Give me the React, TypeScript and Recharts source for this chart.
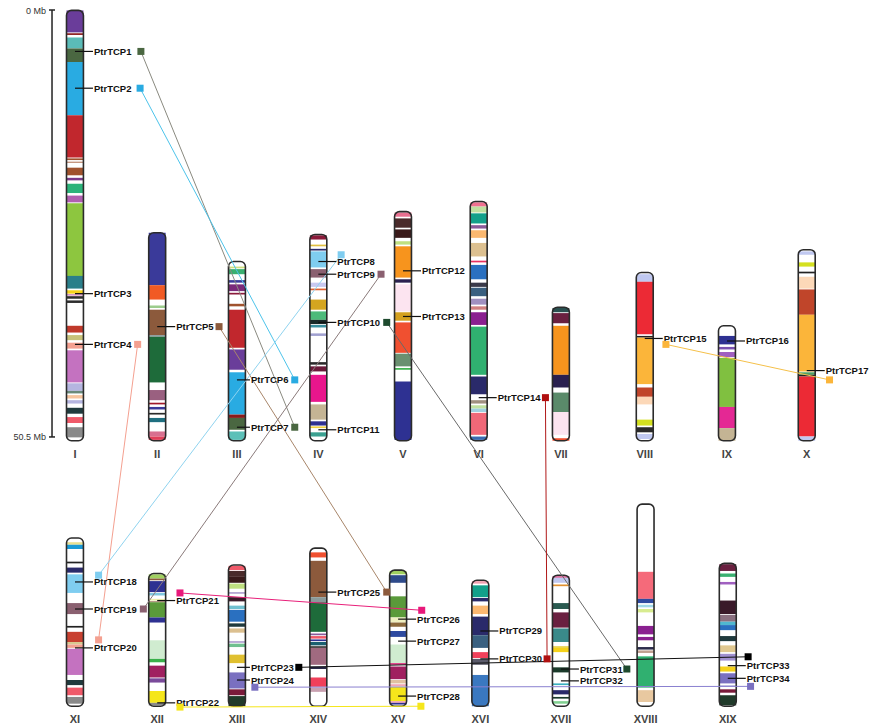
import React from "react"
import { ScatterChart, Scatter, XAxis, YAxis, ReferenceArea, ReferenceLine } from "recharts"

// chromosome layout (x = column on the page, length in Mb)
const chromNames = ["I", "II", "III", "IV", "V", "VI", "VII", "VIII", "IX", "X", "XI", "XII", "XIII", "XIV", "XV", "XVI", "XVII", "XVIII", "XIX"]
const chromX = [1, 2.01, 2.99, 3.99, 5.03, 5.96, 6.97, 8.0, 9.01, 9.99, 1, 2.01, 2.99, 3.99, 4.97, 5.98, 6.97, 8.01, 9.02]
const chromRow = [0, 0, 0, 0, 0, 0, 0, 0, 0, 0, 1, 1, 1, 1, 1, 1, 1, 1, 1]
const chromLength = [50.9, 24.6, 21.2, 24.4, 27.1, 28.3, 15.8, 19.9, 13.6, 22.6, 19.9, 15.7, 16.7, 18.7, 16.1, 14.9, 15.5, 23.9, 16.9]
const rowBase = [50.95, 82.35]

// coloured blocks on each chromosome: [start Mb, end Mb, colour]
type Band = [number, number, string]
const bandsI: Band[] = [
  [0, 2.6, "#6a3d9a"], [2.7, 2.9, "#8b1a1a"], [3.2, 4.5, "#5bbcb8"], [4.5, 6.1, "#4a6741"], [6.1, 12.4, "#29abe2"],
  [12.4, 17.4, "#c1272d"], [17.5, 17.7, "#a0522d"], [17.9, 18.0, "#a0522d"], [18.6, 19.5, "#a0522d"], [19.8, 20.1, "#7a3a8a"],
  [20.5, 21.6, "#2bb37a"], [21.9, 22.7, "#b05fb0"], [22.8, 31.4, "#8dc63f"], [31.4, 32.9, "#2a7f8a"], [33.1, 33.5, "#f5d21b"],
  [33.6, 33.7, "#b0308a"], [33.8, 34.1, "#2d2d2d"], [34.3, 34.6, "#2d2d2d"], [37.3, 38.1, "#c0392b"], [38.4, 39.0, "#c8c27a"],
  [39.3, 40.0, "#f4a090"], [40.2, 44.0, "#c472c0"], [44.1, 45.0, "#b5b5e0"], [45.0, 45.3, "#6a8a7a"], [45.5, 45.9, "#f7c59f"],
  [46.1, 46.5, "#b5b5e0"], [47.0, 47.7, "#1f3a3d"], [48.1, 48.8, "#f05a6a"], [49.3, 50.5, "#8a8a8a"],
]
const bandsII: Band[] = [
  [0, 6.2, "#3a3a9a"], [6.2, 7.9, "#f15a24"], [8.6, 8.9, "#9ccc8c"], [9.1, 12.1, "#8c5a3c"], [12.1, 12.3, "#8a9a9a"],
  [12.3, 17.7, "#1e6b3a"], [18.6, 19.8, "#9a6080"], [20.1, 20.3, "#a01a2a"], [20.6, 20.9, "#3a3a9a"], [21.3, 21.5, "#2a2a2a"],
  [21.9, 22.4, "#1f6f80"], [23.5, 24.1, "#d87090"], [24.1, 24.5, "#e0405a"],
]
const bandsIII: Band[] = [
  [0.6, 0.8, "#d0e080"], [0.9, 1.5, "#3ab070"], [2.2, 2.5, "#3a3a9a"], [2.7, 3.5, "#7a2a7a"], [3.7, 3.9, "#8b1a3a"],
  [5.0, 5.3, "#a0522d"], [5.7, 10.2, "#c1272d"], [10.4, 12.8, "#6a3d9a"], [13.1, 18.1, "#29abe2"], [18.1, 18.5, "#8b1a1a"],
  [18.5, 19.9, "#4a6741"], [20.1, 21.1, "#5bc0b8"],
]
const bandsIV: Band[] = [
  [0.1, 0.6, "#8b1a3a"], [1.2, 1.4, "#e0c040"], [1.7, 1.9, "#2a2a6a"], [2.0, 3.9, "#7fcdf0"], [4.1, 5.1, "#8a6070"],
  [5.7, 6.2, "#c8c8f0"], [6.4, 6.6, "#e06030"], [7.7, 8.9, "#d4a520"], [9.1, 10.1, "#4cba7a"], [10.1, 10.6, "#1a2a2a"],
  [10.7, 11.0, "#3a90a0"], [11.7, 12.0, "#a0a0d0"], [15.1, 15.4, "#2a2a2a"], [15.6, 16.2, "#6b1a3a"], [16.6, 19.8, "#e9168c"],
  [20.1, 21.9, "#c4b494"], [22.1, 22.6, "#2e3192"], [22.7, 22.9, "#f0d040"], [23.4, 23.9, "#3aa090"],
]
const bandsV: Band[] = [
  [0.1, 0.6, "#e87090"], [0.8, 1.9, "#4a2a2a"], [2.1, 3.1, "#3a1a1a"], [3.5, 3.9, "#c0e080"], [4.1, 7.8, "#f7941d"],
  [8.0, 8.4, "#2a2050"], [8.6, 11.8, "#fce4f0"], [11.9, 12.9, "#d4a020"], [13.1, 16.7, "#f05030"], [16.8, 18.3, "#6a9070"],
  [18.5, 18.7, "#3ab04a"], [20.1, 27.0, "#2e3192"],
]
const bandsVI: Band[] = [
  [0.1, 0.6, "#f07090"], [0.6, 1.3, "#c0e0a0"], [1.4, 2.6, "#12a08a"], [2.8, 3.2, "#8a5a9a"], [3.4, 4.3, "#fbb870"],
  [4.9, 6.5, "#dcc090"], [7.0, 7.2, "#e83060"], [7.5, 9.2, "#2a70c0"], [9.6, 10.1, "#3a3a4a"], [10.2, 11.2, "#3a6080"],
  [11.5, 12.2, "#a090c0"], [12.4, 12.8, "#d08080"], [13.1, 14.6, "#8a2090"], [14.8, 20.5, "#30b070"], [20.7, 22.8, "#2a2a6a"],
  [23.5, 23.9, "#a09080"], [24.1, 24.5, "#c0e0a0"], [24.5, 24.9, "#a0d0e0"], [25.0, 27.6, "#f06878"], [27.8, 28.2, "#3a6ab0"],
]
const bandsVII: Band[] = [
  [0.1, 0.6, "#2a5050"], [0.7, 1.9, "#6a2040"], [2.2, 8.0, "#f7941d"], [8.0, 9.5, "#2a2050"], [10.1, 12.4, "#5a8a6a"],
  [12.4, 15.1, "#fce4f0"], [15.5, 15.8, "#f05030"],
]
const bandsVIII: Band[] = [
  [0.2, 1.1, "#c0c8f0"], [1.1, 7.3, "#ec2a35"], [7.5, 7.7, "#222222"], [7.7, 13.2, "#fbb53a"], [13.6, 14.7, "#c0452a"],
  [14.7, 15.6, "#fcd8b8"], [17.4, 18.1, "#d4e020"], [18.3, 18.9, "#2a2a2a"], [19.1, 19.7, "#c0c8f0"],
]
const bandsIX: Band[] = [
  [1.2, 2.2, "#2e3192"], [2.5, 2.8, "#7a50b0"], [3.1, 3.7, "#a060c0"], [3.8, 9.6, "#80c040"], [9.6, 12.1, "#e42894"],
  [12.1, 13.6, "#c4b494"],
]
const bandsX: Band[] = [
  [0.2, 0.6, "#c0c8f0"], [1.5, 2.0, "#d4e020"], [2.6, 2.8, "#222222"], [3.2, 4.6, "#fcd8b8"], [4.7, 7.7, "#c0452a"],
  [7.7, 14.4, "#fbb53a"], [14.5, 14.8, "#50a060"], [14.8, 15.0, "#222222"], [15.0, 22.1, "#ec2a35"], [22.1, 22.6, "#c0c8f0"],
]
const bandsXI: Band[] = [
  [0.5, 0.8, "#e8e090"], [0.8, 1.3, "#1a9ad6"], [2.8, 3.0, "#222222"], [3.5, 4.1, "#2a2a6a"], [4.3, 6.5, "#7fcdf0"],
  [7.7, 9.0, "#8a6070"], [10.4, 10.6, "#222222"], [11.1, 12.3, "#c84030"], [12.3, 12.6, "#d8c890"], [12.6, 13.0, "#f4a090"],
  [13.1, 16.2, "#c472c0"], [16.8, 17.4, "#1f3a3d"], [17.7, 18.6, "#f05a6a"], [18.8, 19.6, "#8a8a8a"],
]
const bandsXII: Band[] = [
  [0.1, 0.6, "#a0d060"], [0.6, 0.8, "#8c5a3c"], [0.9, 2.2, "#2e3192"], [2.3, 2.6, "#80c8e0"], [3.0, 3.2, "#f0f0b0"],
  [3.3, 3.4, "#8c5a3c"], [3.4, 5.2, "#5a9a3a"], [5.2, 5.8, "#2e3192"], [7.9, 10.1, "#d0ecd0"], [10.1, 10.5, "#3ab04a"],
  [10.9, 12.3, "#a02060"], [12.4, 12.9, "#7a4a9a"], [13.9, 15.3, "#f5e61b"], [15.3, 15.6, "#8a8a8a"],
]
const bandsXIII: Band[] = [
  [0.1, 0.6, "#f05a6a"], [0.7, 1.4, "#4a2a2a"], [1.4, 2.1, "#3a1a1a"], [2.2, 2.8, "#c0e080"], [3.2, 3.4, "#b0a0d0"],
  [3.8, 4.3, "#3a1a2a"], [4.8, 5.2, "#70c0d0"], [5.3, 6.7, "#2a70c0"], [6.9, 7.3, "#1f3a3d"], [7.5, 8.0, "#dcc090"],
  [9.0, 9.2, "#b0a0d0"], [9.3, 9.7, "#70c090"], [10.6, 11.6, "#e0c030"], [12.7, 14.6, "#7a70c0"], [14.7, 15.4, "#7a1a3a"],
  [15.5, 16.7, "#203a2a"],
]
const bandsXIV: Band[] = [
  [0.5, 1.1, "#f05030"], [1.5, 5.8, "#8c5a3c"], [5.8, 6.4, "#8a9a9a"], [6.4, 9.9, "#1e6b3a"], [10.1, 10.3, "#8a5a9a"],
  [10.4, 10.7, "#f05a6a"], [10.8, 11.0, "#2e3192"], [11.1, 11.5, "#1a6070"], [11.6, 11.8, "#333333"], [11.8, 13.8, "#a06a80"],
  [14.0, 14.3, "#2a2a4a"], [15.3, 16.4, "#f0405a"], [16.5, 17.0, "#c8a0b0"],
]
const bandsXV: Band[] = [
  [0.1, 0.5, "#a0d060"], [0.6, 1.5, "#2e4a8a"], [3.1, 5.6, "#5a9a3a"], [5.6, 6.2, "#f0f0c0"], [6.2, 6.7, "#8c6a3c"],
  [7.2, 7.9, "#2e4aa0"], [8.8, 11.0, "#d0ecd0"], [11.0, 11.2, "#e03080"], [11.4, 12.9, "#a02060"], [13.0, 13.4, "#e0c0a0"],
  [13.5, 13.7, "#f0a0b0"], [13.8, 15.5, "#f5e61b"], [15.5, 15.7, "#f0a0b0"], [15.7, 15.9, "#2e3192"],
]
const bandsXVI: Band[] = [
  [0.1, 0.4, "#f0a0b0"], [0.6, 2.0, "#12a08a"], [2.1, 2.5, "#2a2a6a"], [3.0, 4.0, "#fbb870"], [4.3, 6.5, "#2a2a6a"],
  [6.5, 8.0, "#3a6080"], [8.5, 9.2, "#f0405a"], [9.3, 10.0, "#5a5a6a"], [11.2, 14.9, "#3a78c0"],
]
const bandsXVII: Band[] = [
  [0.1, 0.9, "#c0c8f0"], [0.1, 0.3, "#e070a0"], [1.1, 1.3, "#e09030"], [3.3, 4.0, "#2a5a50"], [4.4, 6.2, "#6a2040"],
  [6.3, 7.9, "#3a8a8a"], [8.4, 8.6, "#e8d040"], [8.6, 9.1, "#f5d21b"], [10.9, 11.5, "#1a3a2a"], [12.8, 13.0, "#3ab0c0"],
  [13.6, 14.1, "#2a2a6a"], [14.4, 14.6, "#1a3a2a"], [14.9, 15.2, "#80d090"],
]
const bandsXVIII: Band[] = [
  [8.0, 11.2, "#f56a7a"], [11.2, 11.7, "#2e4aa0"], [11.9, 12.2, "#a0d8e8"], [12.4, 12.8, "#d8ec90"], [14.4, 15.4, "#8a2090"],
  [15.7, 16.1, "#8a2090"], [16.9, 17.2, "#2a2a4a"], [17.3, 17.6, "#c0a090"], [18.0, 21.7, "#30b070"], [22.0, 23.4, "#e8c8a0"],
]
const bandsXIX: Band[] = [
  [0.1, 0.9, "#6a2040"], [1.2, 1.6, "#3ab070"], [2.2, 2.5, "#a060c0"], [4.4, 6.0, "#3a1a2a"], [6.1, 6.9, "#8a7080"],
  [6.9, 7.3, "#50b8d0"], [7.3, 7.9, "#2a70c0"], [8.6, 9.2, "#1f3a3d"], [9.7, 10.5, "#e0c890"], [10.7, 11.5, "#a090d0"],
  [12.2, 12.8, "#f5d21b"], [13.0, 14.2, "#7a70c0"], [14.4, 14.6, "#c0c0e0"], [14.9, 15.3, "#7a1a3a"], [15.6, 16.8, "#203a2a"],
]
const chromBands = [bandsI, bandsII, bandsIII, bandsIV, bandsV, bandsVI, bandsVII, bandsVIII, bandsIX, bandsX,
  bandsXI, bandsXII, bandsXIII, bandsXIV, bandsXV, bandsXVI, bandsXVII, bandsXVIII, bandsXIX]

// TCP genes: chromosome index and position (Mb from chromosome top)
const geneNames = Array.from({ length: 34 }, (_, i) => `PtrTCP${i + 1}`)
const geneChrom = [0, 0, 0, 0, 1, 2, 2, 3, 3, 3, 3, 4, 4, 5, 7, 8, 9, 10, 10, 10, 11, 11, 12, 12, 13, 14, 14, 14, 15, 15, 16, 16, 18, 18]
const genePos = [4.85, 9.2, 33.5, 39.5, 11.1, 14.0, 19.6, 3.2, 4.7, 10.4, 23.1, 7.0, 12.4, 23.2, 7.8, 1.8, 14.3, 5.2, 8.4, 13.0,
  3.2, 15.3, 12.1, 13.6, 5.2, 5.8, 8.4, 14.9, 6.0, 9.3, 11.1, 12.5, 12.1, 13.6]

// coloured squares next to the duplicated genes: [gene no., x shift (columns), y shift (Mb), colour]
const markers: [number, number, number, string][] = [
  [1, 0.81, 0, "#4a6741"], [2, 0.8, 0, "#29abe2"], [4, 0.77, 0, "#f4a090"], [5, 0.76, 0, "#8c5a3c"],
  [6, 0.71, 0, "#29abe2"], [7, 0.71, 0, "#4a6741"], [8, 0.28, -0.8, "#7fcdf0"], [9, 0.77, 0, "#8a6070"],
  [10, 0.84, 0, "#1e4a2e"], [14, 0.82, 0, "#b01010"], [15, 0.26, 0.7, "#fbb53a"], [17, 0.28, 1.1, "#fbb53a"],
  [18, 0.29, -0.8, "#7fcdf0"], [19, 0.84, 0, "#8a6070"], [20, 0.29, -0.95, "#f4a090"], [21, 0.28, -0.9, "#e8187a"],
  [22, 0.28, 0.5, "#f5e61b"], [23, 0.76, 0, "#000000"], [24, 0.22, 0.85, "#7a70c0"], [25, 0.84, 0, "#8c5a3c"],
  [26, 0.29, -1.05, "#e8187a"], [28, 0.28, 1.2, "#f5e61b"], [30, 0.82, 0, "#b01010"], [31, 0.81, 0, "#1e4a2e"],
  [33, 0.25, -1.05, "#000000"], [34, 0.28, 0.95, "#7a70c0"],
]

// segmental duplication pairs
const links: [number, number, string][] = [
  [1, 7, "#8a8a80"], [2, 6, "#4cc3ea"], [4, 20, "#f4a090"], [5, 25, "#a8866a"], [8, 18, "#8fd3ef"],
  [9, 19, "#8a7a7a"], [10, 31, "#6a6a6a"], [14, 30, "#b01818"], [15, 17, "#f5c04a"], [21, 26, "#e8207a"],
  [22, 28, "#f5e61b"], [23, 33, "#111111"], [24, 34, "#8a80d0"],
]

const scaleMarks = [{ x: 0.718, y: 0, label: "0 Mb" }, { x: 0.718, y: 50.5, label: "50.5 Mb" }]

const FONT = "'Liberation Sans', Arial, sans-serif"
// genes on these chromosomes sit closer to their label
const tightChroms = ["III", "XIII"]

const chromTop = (c: number) => rowBase[chromRow[c]] - chromLength[c]
const HALF = 0.104

const geneData = geneNames.map((name, i) => ({
  name, x: chromX[geneChrom[i]], y: chromTop(geneChrom[i]) + genePos[i],
  gap: tightChroms.includes(chromNames[geneChrom[i]]) ? 14 : 19,
}))
const markerData = markers.map(([g, dx, dy, color]) => ({ x: geneData[g - 1].x + dx, y: geneData[g - 1].y + dy, color, gene: g }))
const markerOf = (g: number) => markerData.find((m) => m.gene === g)!
const nameData = chromNames.map((name, i) => ({ name, x: chromX[i], y: rowBase[chromRow[i]] }))

const GeneLabel = (p: any) => (
  <g>
    <line x1={p.cx} y1={p.cy} x2={p.cx + p.payload.gap - 1} y2={p.cy} stroke="#111" strokeWidth={1.2} />
    <text x={p.cx + p.payload.gap} y={p.cy + 3.5} fontSize={9.5} fontWeight="bold" fontFamily={FONT} fill="#111">{p.payload.name}</text>
  </g>
)
const Square = (p: any) => <rect x={p.cx - 3.5} y={p.cy - 3.5} width={7} height={7} fill={p.payload.color} />
const ChromName = (p: any) => (
  <text x={p.cx} y={p.cy + 17} textAnchor="middle" fontSize={11} fontWeight="bold" fontFamily={FONT} fill="#444">{p.payload.name}</text>
)
const ScaleLabel = (p: any) => (
  <text x={p.cx - 6} y={p.cy + 3.5} textAnchor="end" fontSize={9} fontFamily={FONT} fill="#333">{p.payload.label}</text>
)

export default function App() {
  return (
    <div style={{ position: "absolute", left: 0, top: 0, background: "#fff" }}>
      <ScatterChart width={869} height={725} margin={{ top: 0, right: 0, bottom: 0, left: 0 }}>
        <XAxis dataKey="x" type="number" domain={[0.079, 10.755]} allowDataOverflow hide />
        <YAxis dataKey="y" type="number" domain={[-1.183, 84.57]} allowDataOverflow reversed hide />

        {chromNames.map((n, c) => (
          <ReferenceArea key={`base-${n}`} x1={chromX[c] - HALF} x2={chromX[c] + HALF} y1={chromTop(c)} y2={rowBase[chromRow[c]]}
            fill="#ffffff" fillOpacity={1} stroke="none" />
        ))}
        {chromBands.flatMap((bands, c) =>
          bands.map(([s, e, color], j) => (
            <ReferenceArea key={`b-${c}-${j}`} x1={chromX[c] - HALF} x2={chromX[c] + HALF}
              y1={chromTop(c) + s} y2={chromTop(c) + e} fill={color} fillOpacity={1} stroke="none" />
          ))
        )}
        {chromNames.map((n, c) => (
          <ReferenceArea key={`out-${n}`} x1={chromX[c] - HALF} x2={chromX[c] + HALF} y1={chromTop(c)} y2={rowBase[chromRow[c]]}
            shape={(p: any) => <rect x={p.x} y={p.y} width={p.width} height={p.height} rx={5} fill="none" stroke="#2b2b2b" strokeWidth={1.6} />} />
        ))}

        <ReferenceLine segment={[{ x: 0.718, y: 0 }, { x: 0.718, y: 50.5 }]} stroke="#222" strokeWidth={1.5} />
        <ReferenceLine segment={[{ x: 0.681, y: 0 }, { x: 0.755, y: 0 }]} stroke="#222" strokeWidth={1.5} />
        <ReferenceLine segment={[{ x: 0.681, y: 50.5 }, { x: 0.755, y: 50.5 }]} stroke="#222" strokeWidth={1.5} />

        {links.map(([a, b, color]) => (
          <ReferenceLine key={`l-${a}-${b}`} segment={[{ x: markerOf(a).x, y: markerOf(a).y }, { x: markerOf(b).x, y: markerOf(b).y }]}
            stroke={color} strokeWidth={1} />
        ))}

        <Scatter data={scaleMarks} shape={ScaleLabel} isAnimationActive={false} />
        <Scatter data={nameData} shape={ChromName} isAnimationActive={false} />
        <Scatter data={geneData} shape={GeneLabel} isAnimationActive={false} />
        <Scatter data={markerData} shape={Square} isAnimationActive={false} />
      </ScatterChart>
    </div>
  )
}
